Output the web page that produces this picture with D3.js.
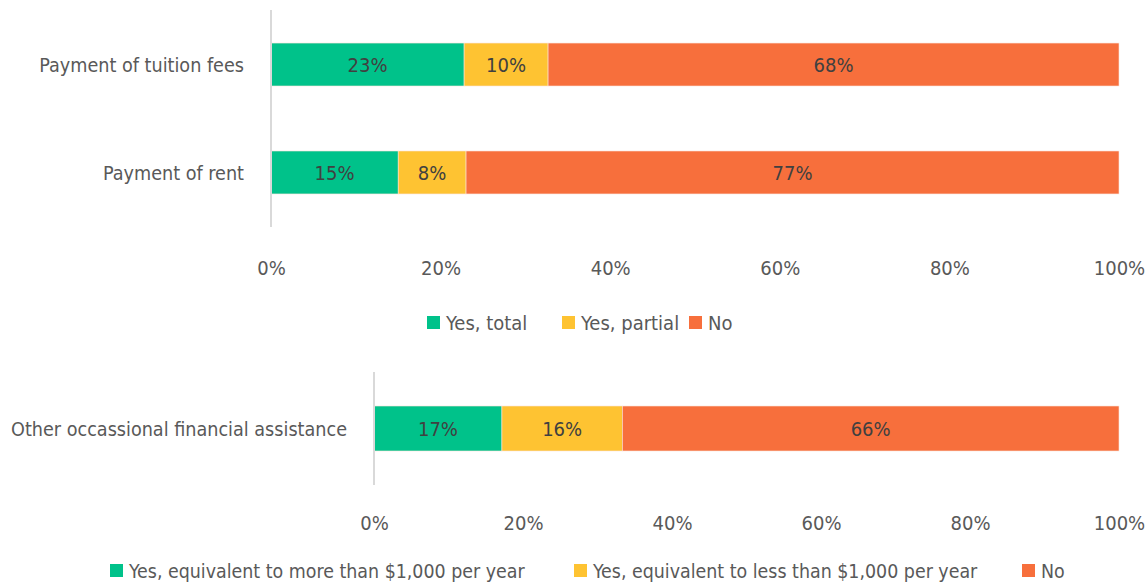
<!DOCTYPE html>
<html>
<head>
<meta charset="utf-8">
<script src="https://cdn.jsdelivr.net/npm/d3@7"></script>
<style>
  body { margin: 0; background: #fff; }
  text { font-family: "DejaVu Sans Condensed", "Liberation Sans Narrow", sans-serif; }
</style>
</head>
<body>
<svg id="chart" width="1147" height="585"></svg>
<script>
// top panel data
let topCategories = ["Payment of tuition fees", "Payment of rent"];
let topKeys = ["Yes, total", "Yes, partial", "No"];
let topValues = [
  [23, 10, 68],
  [15, 8, 77]
];
// bottom panel data
let bottomCategories = ["Other occassional financial assistance"];
let bottomKeys = ["Yes, equivalent to more than $1,000 per year", "Yes, equivalent to less than $1,000 per year", "No"];
let bottomValues = [
  [17, 16, 66]
];
let tickValues = [0, 0.2, 0.4, 0.6, 0.8, 1];

let colors = ["#00c28a", "#fec332", "#f76f3c"];
let fontSize = 20;
let labelSize = 19.6;

let svg = d3.select("#chart");

function drawPanel(cfg) {
  let rows = cfg.categories.map(function(c, i) {
    let row = {name: c};
    cfg.keys.forEach(function(k, j) { row["k" + j] = cfg.values[i][j]; });
    return row;
  });
  let keyIds = cfg.keys.map((k, j) => "k" + j);
  // shares are normalised to the row total, as in the original chart
  let series = d3.stack().keys(keyIds).offset(d3.stackOffsetExpand)(rows);

  let x = d3.scaleLinear().domain([0, 1]).range([cfg.x0, cfg.x1]);
  let y = d3.scaleBand().domain(cfg.categories).range([cfg.y0, cfg.y1])
    .paddingInner(cfg.padIn).paddingOuter(cfg.padOut);

  let g = svg.append("g");

  // bars + value labels
  series.forEach(function(s, j) {
    g.selectAll(null).data(s).enter().append("rect")
      .attr("x", d => x(d[0]))
      .attr("y", d => y(d.data.name))
      .attr("width", d => x(d[1]) - x(d[0]))
      .attr("height", y.bandwidth())
      .attr("fill", colors[j])
      .attr("stroke", "#fbe3da")
      .attr("stroke-width", 0.6);

    g.selectAll(null).data(s).enter().append("text")
      .attr("x", d => (x(d[0]) + x(d[1])) / 2)
      .attr("y", d => y(d.data.name) + y.bandwidth() / 2)
      .attr("dy", "0.36em")
      .attr("text-anchor", "middle")
      .attr("font-size", fontSize)
      .attr("fill", "#404040")
      .text(d => d.data["k" + j] + "%");
  });

  // vertical axis line
  g.append("line")
    .attr("x1", cfg.x0).attr("x2", cfg.x0)
    .attr("y1", cfg.y0).attr("y2", cfg.y1)
    .attr("stroke", "#d9d9d9").attr("stroke-width", 2);

  // category labels
  g.selectAll(null).data(cfg.categories).enter().append("text")
    .attr("x", cfg.x0 - 27)
    .attr("y", d => y(d) + y.bandwidth() / 2)
    .attr("dy", "0.36em")
    .attr("text-anchor", "end")
    .attr("font-size", labelSize)
    .attr("fill", "#595959")
    .text(d => d);

  // x axis (labels only)
  let axis = g.append("g")
    .attr("transform", "translate(0," + cfg.tickY + ")")
    .call(d3.axisBottom(x).tickValues(tickValues).tickFormat(d3.format(".0%")).tickSize(0).tickPadding(0));
  axis.select(".domain").remove();
  axis.attr("font-family", null);
  axis.selectAll("text")
    .attr("font-size", fontSize)
    .attr("fill", "#595959")
    .attr("dy", "0.36em");

  // legend
  let lg = svg.append("g").attr("transform", "translate(0," + cfg.legendY + ")");
  cfg.keys.forEach(function(k, j) {
    let item = lg.append("g").attr("transform", "translate(" + cfg.legendX[j] + ",0)");
    item.append("rect").attr("x", 0).attr("y", -7).attr("width", 13).attr("height", 13).attr("fill", colors[j]);
    item.append("text").attr("x", 19).attr("y", 0).attr("dy", "0.36em")
      .attr("font-size", cfg.legendSize).attr("fill", "#595959").text(k);
  });
}

drawPanel({
  categories: topCategories, keys: topKeys, values: topValues,
  x0: 271, x1: 1119, y0: 10, y1: 227, padIn: 0.602, padOut: 0.306,
  tickY: 268, legendY: 323, legendX: [427, 562, 689], legendSize: 20
});

drawPanel({
  categories: bottomCategories, keys: bottomKeys, values: bottomValues,
  x0: 374, x1: 1119, y0: 372, y1: 485, padIn: 0, padOut: 0.756,
  tickY: 523, legendY: 571, legendX: [110, 574, 1022], legendSize: 19.4
});
</script>
</body>
</html>
